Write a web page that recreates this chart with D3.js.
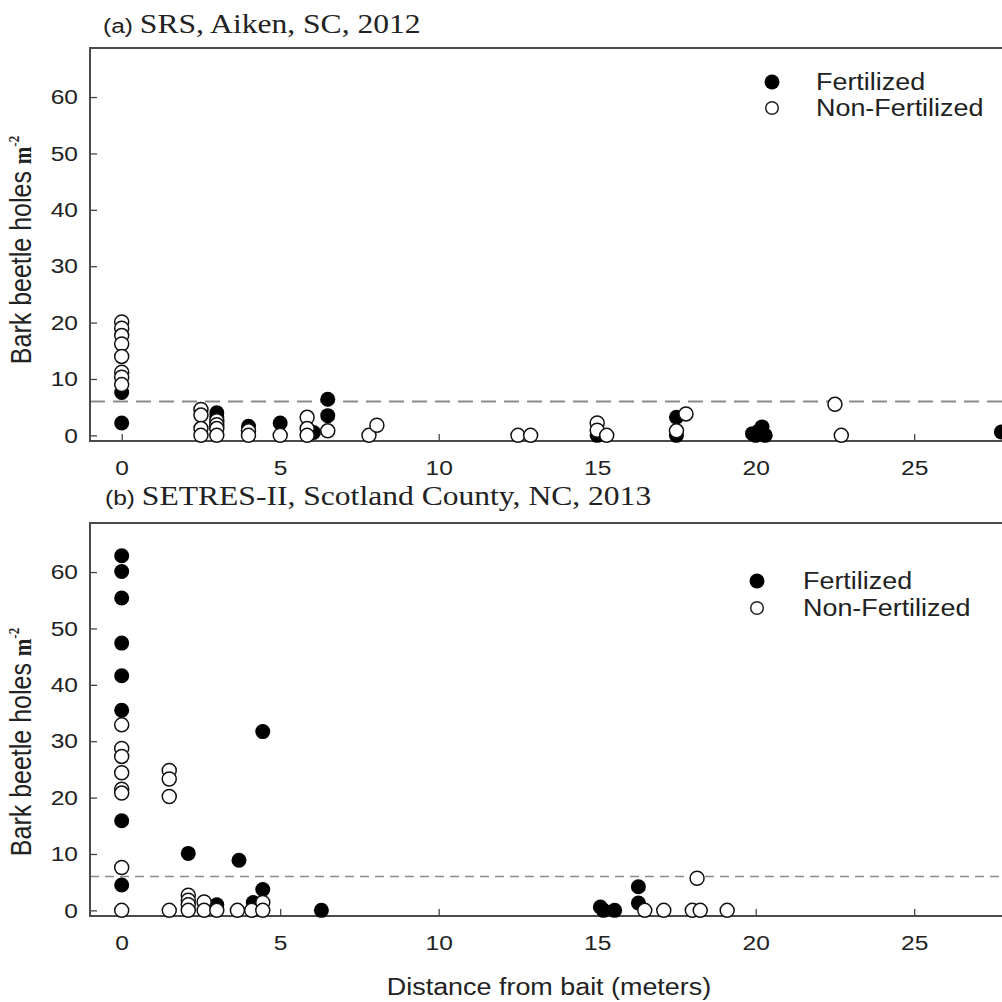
<!DOCTYPE html>
<meta charset="utf-8">
<script src="https://d3js.org/d3.v7.min.js"></script>
<style>
  body { margin: 0; background: #fff; }
  text { font-family: "Liberation Sans", Arial, sans-serif; }
</style>
<div id="my_dataviz"></div>
<script>
// ---- data: [distance (m), holes per m2] ----
var aFertilized = [[0,7.6],[0,2.2],[3,4.0],[3,3.3],[4,1.6],[5,2.2],[6.05,0.5],
  [6.5,6.4],[6.5,3.5],[15,0],[17.5,3.2],[17.5,0],[19.9,0.3],[20.0,0],[20.1,0.8],
  [20.2,1.5],[20.3,0],[27.75,0.6]];
var aNonFertilized = [[0,20.1],[0,19.0],[0,17.7],[0,16.2],[0,14.0],[0,11.2],[0,10.3],[0,9.0],
  [2.5,4.6],[2.5,3.6],[2.5,1.2],[2.5,0],[3,2.6],[3,1.9],[3,1.2],[3,0],[4,0.8],[4,0],
  [5,0],[5.85,3.2],[5.85,1.2],[5.85,0],[6.5,0.8],[7.8,0],[8.05,1.8],[12.5,0],[12.9,0],
  [15,2.2],[15,0.9],[15.3,0],[17.5,0.8],[17.8,3.8],[22.5,5.5],[22.7,0]];
var bFertilized = [[0,62.9],[0,60.1],[0,55.4],[0,47.4],[0,41.6],[0,35.5],[0,15.9],[0,4.5],
  [2.1,10.1],[3.0,1.0],[3.7,8.9],[4.15,1.4],[4.45,31.7],[4.45,3.7],[6.3,0],
  [15.1,0.6],[15.2,0],[15.55,0],[16.3,4.2],[16.3,1.3]];
var bNonFertilized = [[0,32.9],[0,28.7],[0,27.3],[0,24.4],[0,21.5],[0,20.8],[0,7.6],[0,0],
  [1.5,24.8],[1.5,23.3],[1.5,20.2],[1.5,0],[2.1,2.7],[2.1,1.8],[2.1,1.0],[2.1,0],
  [2.6,1.5],[2.6,0],[3.0,0],[3.65,0],[4.1,0],[4.45,1.4],[4.45,0],
  [16.5,0],[17.1,0],[18.0,0],[18.15,5.7],[18.25,0],[19.1,0]];
var threshold = 6;
var xTicks = [0, 5, 10, 15, 20, 25];
var yTicks = [0, 10, 20, 30, 40, 50, 60];
var legendLabels = ["Fertilized", "Non-Fertilized"];

var W = 1002, H = 1002, sx = 1.17;   // picture is stretched sideways

var svg = d3.select("#my_dataviz").append("svg")
  .attr("width", W).attr("height", H);

var x = d3.scaleLinear().domain([-1, 30]).range([90, 90 + 31 * 31.7]);

function panel(p) {
  var y = d3.scaleLinear().domain([-1, 68.7]).range([p.bottom, p.top]);
  var g = svg.append("g");

  // title
  var t = g.append("text")
    .attr("transform", "translate(" + p.titleX + "," + p.titleY + ") scale(" + sx + ",1)")
    .style("font-family", "'Liberation Serif', 'Times New Roman', serif")
    .style("font-size", "27px").attr("fill", "#222");
  t.append("tspan").style("font-family", "'Liberation Sans', Arial, sans-serif")
    .style("font-size", "21px").text(p.tag + " ");
  t.append("tspan").text(p.title);

  // threshold line
  g.append("line")
    .attr("x1", x(-1)).attr("x2", W)
    .attr("y1", y(threshold)).attr("y2", y(threshold))
    .attr("stroke", "#8a8a8a").attr("stroke-width", p.dashW)
    .attr("stroke-dasharray", p.dash);

  // axes
  var xa = g.append("g").attr("transform", "translate(0," + p.bottom + ")")
    .call(d3.axisBottom(x).tickValues(xTicks).tickSizeInner(-7).tickSizeOuter(0).tickPadding(19));
  var ya = g.append("g").attr("transform", "translate(" + x(-1) + ",0)")
    .call(d3.axisLeft(y).tickValues(yTicks).tickSizeInner(-7).tickSizeOuter(0).tickPadding(10.3));
  [xa, ya].forEach(function (a) {
    a.select(".domain").remove();
    a.selectAll("line").attr("stroke", "#444").attr("stroke-width", 1.3);
    a.selectAll("text").attr("fill", "#222").style("font-size", "21px")
      .style("font-family", "'Liberation Sans', Arial, sans-serif")
      .attr("transform", "scale(" + sx + ",1)");
  });

  // frame: top, left, bottom
  g.append("path")
    .attr("d", "M" + W + "," + p.top + "H" + x(-1) + "V" + p.bottom + "H" + W)
    .attr("fill", "none").attr("stroke", "#4a4a4a").attr("stroke-width", 2);

  // y label
  var yl = g.append("text")
    .attr("transform", "translate(" + p.ylabX + "," + p.ylabY + ") scale(" + sx + ",1) rotate(-90)")
    .attr("text-anchor", "middle").attr("fill", "#222").style("font-size", "25px");
  yl.append("tspan").text("Bark beetle holes  ");
  yl.append("tspan").style("font-family", "'Liberation Serif', serif").style("font-weight", "bold")
    .style("font-size", "21px").text("m");
  yl.append("tspan").style("font-family", "'Liberation Serif', serif").style("font-weight", "bold")
    .style("font-size", "13px").attr("dy", "-10").text("-2");

  // points: filled first, open on top
  g.append("g").selectAll("circle").data(p.fert).enter().append("circle")
    .attr("cx", function (d) { return x(d[0]); })
    .attr("cy", function (d) { return y(d[1]); })
    .attr("r", 7.5).attr("fill", "#000");
  g.append("g").selectAll("circle").data(p.nonfert).enter().append("circle")
    .attr("cx", function (d) { return x(d[0]); })
    .attr("cy", function (d) { return y(d[1]); })
    .attr("r", 7).attr("fill", "#fff").attr("stroke", "#111").attr("stroke-width", 1.5);

  // legend
  var lg = g.append("g");
  lg.append("circle").attr("cx", p.legX).attr("cy", p.legY).attr("r", 7.5).attr("fill", "#000");
  lg.append("circle").attr("cx", p.legX).attr("cy", p.legY + p.legStep).attr("r", 6.3)
    .attr("fill", "#fff").attr("stroke", "#222").attr("stroke-width", 1.5);
  legendLabels.forEach(function (lab, i) {
    lg.append("text")
      .attr("transform", "translate(" + (p.legX + p.legGap) + "," + (p.legY + i * p.legStep + 8) + ") scale(" + sx + ",1)")
      .attr("fill", "#222").style("font-size", "23px").text(lab);
  });
}

panel({ top: 48, bottom: 441, tag: "(a)", title: "SRS, Aiken, SC, 2012", titleX: 103, titleY: 33,
  fert: aFertilized, nonfert: aNonFertilized, dash: "15,8", dashW: 2,
  legX: 772, legY: 82, legStep: 26, legGap: 44, ylabX: 31, ylabY: 250 });
panel({ top: 523, bottom: 916, tag: "(b)", title: "SETRES-II, Scotland County, NC, 2013", titleX: 105, titleY: 505,
  fert: bFertilized, nonfert: bNonFertilized, dash: "9,6", dashW: 1.5,
  legX: 757, legY: 581, legStep: 27, legGap: 46, ylabX: 31, ylabY: 742 });

// x label
svg.append("text")
  .attr("transform", "translate(549,995) scale(" + sx + ",1)")
  .attr("text-anchor", "middle").attr("fill", "#222").style("font-size", "23px")
  .text("Distance from bait (meters)");
</script>
